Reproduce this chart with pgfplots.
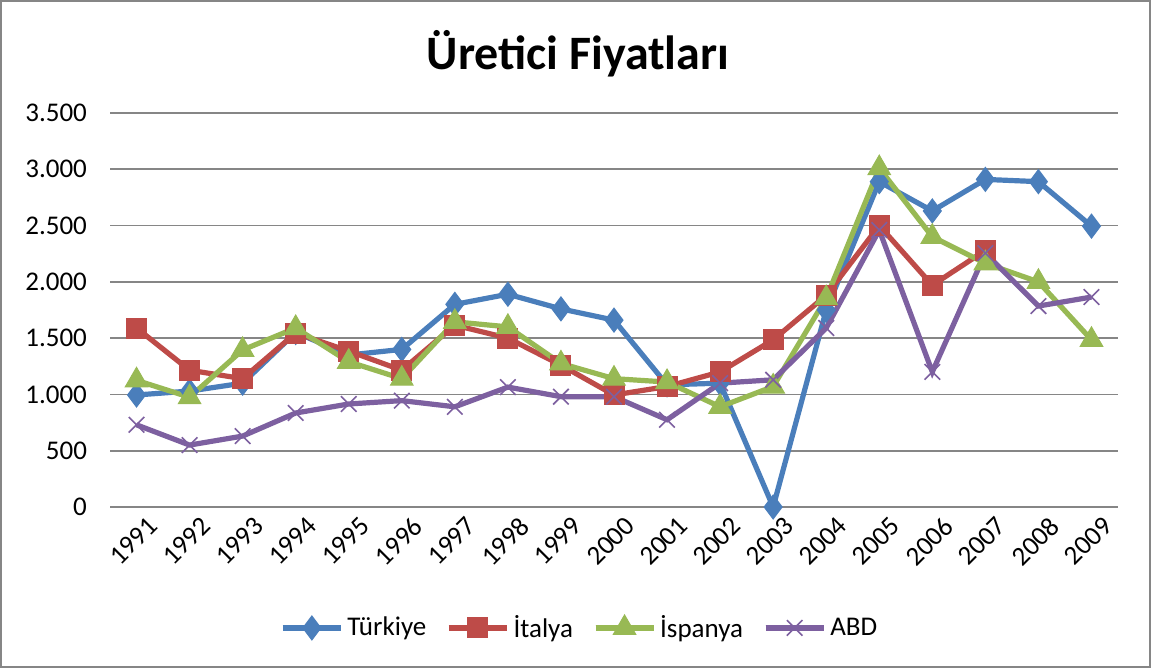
\documentclass[border=0pt]{standalone}
\usepackage{pgfplots}
\pgfplotsset{compat=1.18}
\usepackage{fontspec}
\setmainfont{Carlito}
\definecolor{cblue}{RGB}{74,126,187}
\definecolor{cred}{RGB}{190,75,72}
\definecolor{cgreen}{RGB}{152,185,84}
\definecolor{cpurple}{RGB}{125,96,160}
\definecolor{cgrid}{RGB}{134,134,134}
\begin{document}
\begin{tikzpicture}
\path[use as bounding box] (0pt,0pt) rectangle (576pt,334pt);
\draw[cgrid, line width=0.8pt] (0.5pt,0.5pt) rectangle (575pt,333.5pt);
\node[font=\bfseries\fontsize{24}{28}\selectfont] at (289pt,307pt) {Üretici Fiyatları};
\begin{axis}[
  at={(55pt,80.5pt)}, anchor=south west,
  scale only axis, width=504pt, height=197pt,
  xmin=1990.5, xmax=2009.5, ymin=0, ymax=3500,
  ytick={0,500,...,3500},
  xtick={1991,...,2009},
  xticklabels={1991,1992,1993,1994,1995,1996,1997,1998,1999,2000,2001,2002,2003,2004,2005,2006,2007,2008,2009},
  ymajorgrids, grid style={cgrid, line width=0.8pt},
  axis line style={draw=none},
  major tick length=0pt,
  tick label style={font=\fontsize{13.5}{16}\selectfont},
  /pgf/number format/assume math mode=true,
  yticklabel style={/pgf/number format/1000 sep={.}, xshift=-8pt},
  xticklabel style={rotate=45, anchor=north east, yshift=-3pt, xshift=4pt},
  legend style={at={(0.467,-0.307)}, anchor=center, draw=none, legend columns=-1,
    font=\fontsize{13.5}{16}\selectfont, /tikz/every even column/.append style={column sep=8pt}},
  legend image code/.code={\draw[#1] (0pt,0pt) -- (29pt,0pt); \draw[#1,mark repeat=2,mark phase=2] plot coordinates {(0pt,0pt) (14.5pt,0pt) (29pt,0pt)};},
  every axis plot/.append style={line width=2.6pt, mark options={solid}},
]
\addplot[cblue, mark=diamond*, mark size=6pt, mark options={line width=0.5pt}] coordinates {
(1991,995)(1992,1030)(1993,1100)(1994,1550)(1995,1350)(1996,1400)(1997,1800)(1998,1890)(1999,1760)(2000,1660)(2001,1085)(2002,1100)(2003,0)(2004,1750)(2005,2890)(2006,2630)(2007,2910)(2008,2890)(2009,2495)};
\addlegendentry{Türkiye}
\addplot[cred, mark=square*, mark size=5pt, mark options={line width=0.5pt}] coordinates {
(1991,1590)(1992,1215)(1993,1140)(1994,1545)(1995,1385)(1996,1215)(1997,1615)(1998,1500)(1999,1260)(2000,995)(2001,1070)(2002,1200)(2003,1485)(2004,1880)(2005,2500)(2006,1970)(2007,2280)};
\addlegendentry{İtalya}
\addplot[cgreen, mark=triangle*, mark size=6.5pt, mark options={line width=0.5pt}] coordinates {
(1991,1125)(1992,975)(1993,1395)(1994,1590)(1995,1290)(1996,1140)(1997,1645)(1998,1600)(1999,1275)(2000,1140)(2001,1110)(2002,890)(2003,1070)(2004,1855)(2005,3010)(2006,2400)(2007,2165)(2008,2000)(2009,1485)};
\addlegendentry{İspanya}
\addplot[cpurple, mark=x, mark size=5.5pt, mark options={line width=0.8pt}] coordinates {
(1991,730)(1992,550)(1993,630)(1994,835)(1995,915)(1996,945)(1997,890)(1998,1065)(1999,980)(2000,980)(2001,775)(2002,1100)(2003,1130)(2004,1590)(2005,2460)(2006,1200)(2007,2255)(2008,1785)(2009,1865)};
\addlegendentry{ABD}
\end{axis}
\end{tikzpicture}
\end{document}
